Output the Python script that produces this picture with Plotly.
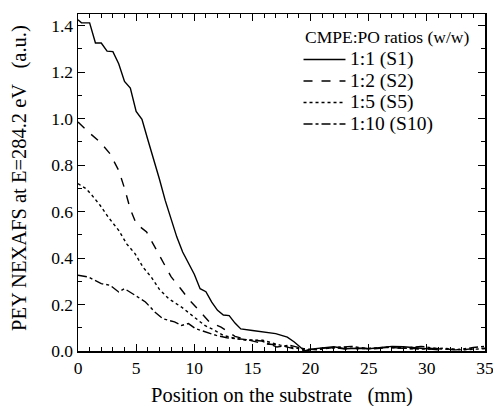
import plotly.graph_objects as go

# Series data (position in mm, PEY NEXAFS intensity a.u.)
s1_x = [0, 0.3, 1.0, 1.5, 2.0, 2.5, 3.0, 3.5, 4.0, 4.5, 5.0, 5.5, 6.0, 6.5, 7.0, 7.5, 8.0, 8.5, 9.0, 9.5,
        10.0, 10.5, 11.0, 11.5, 12.0, 12.5, 13.0, 13.5, 14.0, 15.0, 16.0, 17.0, 18.0, 18.6, 19.1, 19.5,
        20, 21, 22, 23, 24, 25, 26, 27, 28, 29, 30, 31]
s1_y = [1.425, 1.412, 1.412, 1.325, 1.325, 1.29, 1.288, 1.236, 1.16, 1.131, 1.031, 0.997, 0.91, 0.83,
        0.74, 0.648, 0.565, 0.49, 0.426, 0.38, 0.33, 0.268, 0.255, 0.21, 0.175, 0.155, 0.152, 0.12,
        0.095, 0.088, 0.08, 0.075, 0.06, 0.039, 0.017, 0.0, 0.008, 0.012, 0.018, 0.01, 0.012, 0.01,
        0.015, 0.02, 0.018, 0.015, 0.01, 0.005]

s2_x = [0, 0.9, 1.9, 2.75, 3.5, 4.0, 4.5, 5.0, 5.9, 6.6, 7.3, 8.0, 8.8, 9.6, 10.4, 11.3, 12.3, 13.5,
        14.8, 15.9, 17.4, 18.5, 19.5, 20.5, 22, 23, 24, 25.5, 27, 28.5, 30, 31.5, 33, 34, 35]
s2_y = [0.985, 0.942, 0.899, 0.849, 0.777, 0.70, 0.61, 0.548, 0.512, 0.447, 0.38, 0.32, 0.27, 0.218,
        0.175, 0.125, 0.103, 0.063, 0.046, 0.032, 0.025, 0.01, 0.0, 0.01, 0.015, 0.008, 0.012, 0.01,
        0.015, 0.01, 0.012, 0.008, 0.005, 0.01, 0.012]

s5_x = [0, 0.7, 1.2, 1.9, 2.6, 3.5, 4.2, 4.9, 5.6, 6.3, 7.0, 7.8, 8.9, 9.6, 10.2, 10.9, 11.6, 12.5,
        13.6, 14.5, 15.9, 17.4, 18.5, 19.5, 21, 22.5, 24, 25.5, 27, 28.5, 30, 31.5, 33, 35]
s5_y = [0.72, 0.698, 0.67, 0.627, 0.576, 0.519, 0.46, 0.419, 0.36, 0.318, 0.265, 0.225, 0.189, 0.161,
        0.139, 0.11, 0.093, 0.067, 0.053, 0.046, 0.046, 0.025, 0.015, 0.005, 0.01, 0.015, 0.01,
        0.012, 0.018, 0.01, 0.008, 0.012, 0.005, 0.01]

s10_x = [0, 0.9, 2.0, 2.75, 3.5, 4.0, 4.9, 5.8, 6.6, 7.3, 8.3, 8.9, 9.5, 10.1, 10.8, 11.9, 12.8, 13.8,
         14.8, 15.8, 17.1, 18.2, 19.4, 20.5, 22, 23.5, 25, 26.5, 28, 29.5, 31, 32.5, 34, 35]
s10_y = [0.326, 0.318, 0.29, 0.283, 0.254, 0.268, 0.24, 0.211, 0.168, 0.139, 0.125, 0.11, 0.118,
         0.096, 0.085, 0.067, 0.057, 0.053, 0.046, 0.043, 0.017, 0.025, 0.01, 0.005, 0.015, 0.02,
         0.01, 0.015, 0.012, 0.02, 0.01, 0.005, 0.015, 0.02]

names = ["1:1 (S1)", "1:2 (S2)", "1:5 (S5)", "1:10 (S10)"]
dashes = ["solid", "dash", "dot", "dashdot"]
xs = [s1_x, s2_x, s5_x, s10_x]
ys = [s1_y, s2_y, s5_y, s10_y]

x_ticks = [0, 5, 10, 15, 20, 25, 30, 35]
y_ticks = [0.0, 0.2, 0.4, 0.6, 0.8, 1.0, 1.2, 1.4]

legend_title = "CMPE:PO ratios (w/w)"
x_title = "Position on the substrate\u00a0\u00a0\u00a0(mm)"
y_title = "PEY NEXAFS at E=284.2 eV\u00a0\u00a0\u00a0(a.u.)"

FONT = "Liberation Serif"

fig = go.Figure()
for x, y, n, d in zip(xs, ys, names, dashes):
    fig.add_trace(go.Scatter(x=x, y=y, mode="lines", name=n, showlegend=False,
                             line=dict(color="black", width=1.4, dash=d)))

axis_common = dict(
    showline=True, linecolor="black", linewidth=1.5, mirror="ticks",
    ticks="inside", ticklen=7, tickcolor="black", tickwidth=1,
    showgrid=False, zeroline=False, automargin=False,
    tickfont=dict(family=FONT, size=17.5, color="black"),
)

# manual legend (paper coordinates of the plotting area)
leg_line_x0, leg_line_x1, leg_text_x = 0.5541, 0.6572, 0.6646
leg_rows_y = [0.865, 0.8012, 0.7374, 0.6736]
shapes = []
annotations = [
    dict(text=legend_title, xref="paper", yref="paper", x=0.5528, y=0.9326,
         xanchor="left", yanchor="middle", showarrow=False,
         font=dict(family=FONT, size=17.5, color="black")),
    dict(text=x_title, xref="paper", yref="paper", x=0.5, y=-0.133,
         xanchor="center", yanchor="middle", showarrow=False,
         font=dict(family=FONT, size=20.5, color="black")),
    dict(text=y_title, xref="paper", yref="paper", x=-0.1425, y=0.5134,
         xanchor="center", yanchor="middle", showarrow=False, textangle=-90,
         font=dict(family=FONT, size=20.5, color="black")),
]
for n, d, ry in zip(names, dashes, leg_rows_y):
    shapes.append(dict(type="line", xref="paper", yref="paper",
                       x0=leg_line_x0, x1=leg_line_x1, y0=ry, y1=ry,
                       line=dict(color="black", width=1.4, dash=d)))
    annotations.append(dict(text=n, xref="paper", yref="paper", x=leg_text_x, y=ry,
                            xanchor="left", yanchor="middle", showarrow=False,
                            font=dict(family=FONT, size=19.5, color="black")))

fig.update_layout(
    width=493, height=406,
    margin=dict(l=78, r=8, t=14, b=55),
    plot_bgcolor="white", paper_bgcolor="white",
    font=dict(family=FONT, size=17.5, color="black"),
    xaxis=dict(range=[0, 35], tickvals=x_ticks, ticklabeloverflow="allow", **axis_common,
               minor=dict(dtick=1, ticks="inside", ticklen=4, tickcolor="black")),
    yaxis=dict(range=[0, 1.45], tickvals=y_ticks, tickformat=".1f", **axis_common,
               minor=dict(dtick=0.1, ticks="inside", ticklen=4, tickcolor="black")),
    showlegend=False,
    hovermode=False,
    shapes=shapes,
    annotations=annotations,
)

fig.write_html("out.html",
               config={"displayModeBar": False, "staticPlot": True},
               post_script="document.body.style.margin='0';"
                           "document.documentElement.style.overflow='hidden';"
                           "document.body.style.overflow='hidden';")
